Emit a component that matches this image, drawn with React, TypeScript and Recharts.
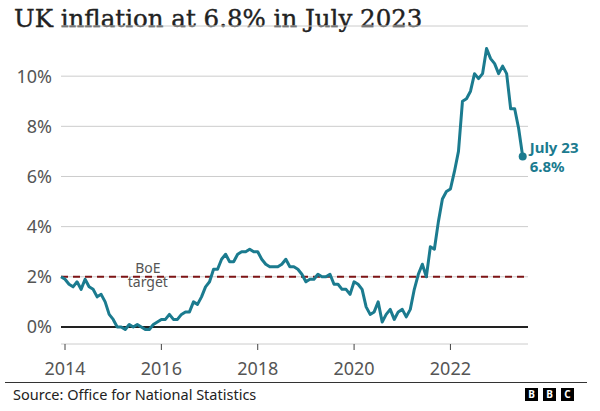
import { CartesianGrid, Line, LineChart, ReferenceDot, ReferenceLine, XAxis, YAxis } from 'recharts';

// UK CPI annual rate, monthly (%), Dec 2013 to Jul 2023
const dec2013 = [2.0];
const cpi2014 = [1.9, 1.7, 1.6, 1.8, 1.5, 1.9, 1.6, 1.5, 1.2, 1.3, 1.0, 0.5];
const cpi2015 = [0.3, 0.0, 0.0, -0.1, 0.1, 0.0, 0.1, 0.0, -0.1, -0.1, 0.1, 0.2];
const cpi2016 = [0.3, 0.3, 0.5, 0.3, 0.3, 0.5, 0.6, 0.6, 1.0, 0.9, 1.2, 1.6];
const cpi2017 = [1.8, 2.3, 2.3, 2.7, 2.9, 2.6, 2.6, 2.9, 3.0, 3.0, 3.1, 3.0];
const cpi2018 = [3.0, 2.7, 2.5, 2.4, 2.4, 2.4, 2.5, 2.7, 2.4, 2.4, 2.3, 2.1];
const cpi2019 = [1.8, 1.9, 1.9, 2.1, 2.0, 2.0, 2.1, 1.7, 1.7, 1.5, 1.5, 1.3];
const cpi2020 = [1.8, 1.7, 1.5, 0.8, 0.5, 0.6, 1.0, 0.2, 0.5, 0.7, 0.3, 0.6];
const cpi2021 = [0.7, 0.4, 0.7, 1.5, 2.1, 2.5, 2.0, 3.2, 3.1, 4.2, 5.1, 5.4];
const cpi2022 = [5.5, 6.2, 7.0, 9.0, 9.1, 9.4, 10.1, 9.9, 10.1, 11.1, 10.7, 10.5];
const cpi2023 = [10.1, 10.4, 10.1, 8.7, 8.7, 7.9, 6.8];

const yearTicks = [2014, 2016, 2018, 2020, 2022];
const pctTicks = [0, 2, 4, 6, 8, 10];
const boeTarget = 2;
const boeLabelX = 2015.72;
const latest = { x: 2023.5, value: 6.8, label: 'July 23' };

const years: [number, number[]][] = [
  [2014, cpi2014], [2015, cpi2015], [2016, cpi2016], [2017, cpi2017], [2018, cpi2018],
  [2019, cpi2019], [2020, cpi2020], [2021, cpi2021], [2022, cpi2022], [2023, cpi2023],
];

const data = [
  { x: 2013 + 11 / 12, rate: dec2013[0] },
  ...years.flatMap(([yr, vals]) => vals.map((v, m) => ({ x: yr + m / 12, rate: v }))),
];

const TEAL = '#1b7b8f';
const sans = '"Noto Sans", sans-serif';

const BoeLabel = (props: any) => {
  const { viewBox } = props;
  const cx = viewBox.x;
  const cy = viewBox.y;
  return (
    <text x={cx} y={cy - 4} fontFamily={sans} fontSize={14} fill="#555" textAnchor="middle">
      <tspan x={cx}>BoE</tspan>
      <tspan x={cx} dy={14}>target</tspan>
    </text>
  );
};

const LatestLabel = (props: any) => {
  const { viewBox } = props;
  const x = viewBox.x + viewBox.width / 2 + 7;
  const y = viewBox.y + viewBox.height / 2;
  return (
    <g fontFamily={sans} fontSize={15} fontWeight={700} fill={TEAL}>
      <text x={x} y={y - 3.5}>{latest.label}</text>
      <text x={x} y={y + 15.5}>{latest.value}%</text>
    </g>
  );
};

export default function App() {
  return (
    <div style={{ position: 'absolute', left: 0, top: 0, width: 600, height: 411, background: '#fff' }}>
      <div
        style={{
          position: 'absolute', left: 14, top: 4, fontFamily: '"DejaVu Serif", serif',
          fontSize: 24.5, color: '#222', whiteSpace: 'nowrap',
          WebkitTextStroke: '0.4px #222',
        }}
      >
        UK inflation at 6.8% in July 2023
      </div>
      <LineChart width={600} height={411} data={data} margin={{ top: 26, right: 72, bottom: 37, left: 0 }}>
        <CartesianGrid vertical={false} stroke="#cccccc" />
        <XAxis
          dataKey="x"
          type="number"
          domain={[2013 + 11 / 12, 2023.61]}
          ticks={yearTicks}
          axisLine={false}
          tickSize={6}
          tickMargin={12}
          height={30}
          tickLine={{ stroke: '#444' }}
          tick={{ fontFamily: sans, fontSize: 18, fill: '#555' }}
        />
        <YAxis
          type="number"
          domain={[-0.68, 12]}
          ticks={pctTicks}
          width={61}
          axisLine={false}
          tickLine={false}
          tickSize={0}
          tickMargin={9}
          tickFormatter={(v) => `${v}%`}
          tick={{ fontFamily: sans, fontSize: 18, fill: '#555' }}
        />
        <ReferenceLine y={0} stroke="#222" strokeWidth={2} />
        <ReferenceLine y={boeTarget} stroke="#7d1416" strokeWidth={2} strokeDasharray="7 5" />
        <ReferenceDot x={boeLabelX} y={boeTarget} r={0} stroke="none" label={<BoeLabel />} />
        <Line
          type="linear"
          dataKey="rate"
          stroke={TEAL}
          strokeWidth={3}
          dot={false}
          isAnimationActive={false}
          strokeLinejoin="round"
        />
        <ReferenceDot x={latest.x} y={latest.value} r={4} fill={TEAL} stroke="none" label={<LatestLabel />} />
      </LineChart>
      <div style={{ position: 'absolute', left: 5, top: 382, width: 582, height: 1, background: '#333' }} />
      <div style={{ position: 'absolute', left: 13, top: 384, fontFamily: sans, fontSize: 14.5, color: '#222' }}>
        Source: Office for National Statistics
      </div>
      <div style={{ position: 'absolute', left: 525, top: 388, display: 'flex', gap: 5 }}>
        {['B', 'B', 'C'].map((c, i) => (
          <div
            key={i}
            style={{
              width: 13, height: 13, background: '#000', color: '#fff', fontFamily: sans,
              fontWeight: 700, fontSize: 10, lineHeight: '13px', textAlign: 'center',
            }}
          >
            {c}
          </div>
        ))}
      </div>
    </div>
  );
}
